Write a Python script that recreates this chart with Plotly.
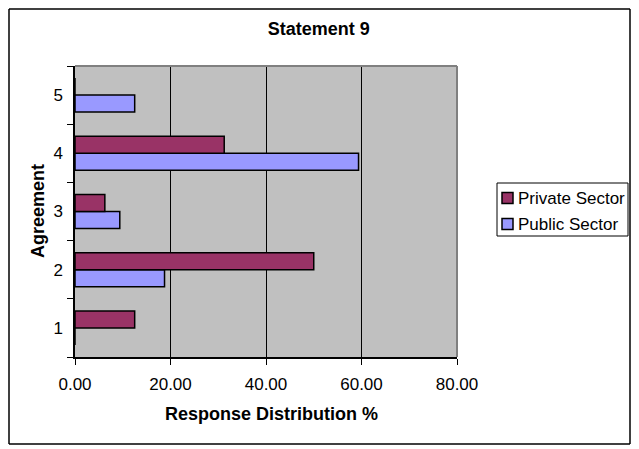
import plotly.graph_objects as go

categories = ["1", "2", "3", "4", "5"]
series_names = ["Private Sector", "Public Sector"]
private_sector = [12.5, 50.0, 6.25, 31.25, 0]
public_sector = [0, 18.75, 9.38, 59.38, 12.5]
x_ticks = [0, 20, 40, 60, 80]
colors = {"Private Sector": "#993366", "Public Sector": "#9999FF"}

# The page shows the figure shifted by the body margin, so layout is
# expressed in figure pixels (target pixel minus OFF).
OFF = 8
W, H = 639, 449
L, R, T, B = 75 - OFF, 457 - OFF, 66 - OFF, 357 - OFF
pw, ph = R - L, B - T

def px_x(p):
    return (p - OFF - L) / pw

def px_y(p):
    return (B - (p - OFF)) / ph

fig = go.Figure()
fig.add_trace(go.Bar(
    y=categories, x=public_sector, orientation="h", name=series_names[1],
    marker=dict(color=colors[series_names[1]], line=dict(color="black", width=1.5)),
    showlegend=False,
))
fig.add_trace(go.Bar(
    y=categories, x=private_sector, orientation="h", name=series_names[0],
    marker=dict(color=colors[series_names[0]], line=dict(color="black", width=1.5)),
    showlegend=False,
))

def hline(y, x0, x1, color="black", width=1.5):
    return dict(type="line", xref="paper", yref="paper", x0=px_x(x0), x1=px_x(x1),
                y0=px_y(y), y1=px_y(y), line=dict(color=color, width=width), layer="above")

def vline(x, y0, y1, color="black", width=1.5):
    return dict(type="line", xref="paper", yref="paper", x0=px_x(x), x1=px_x(x),
                y0=px_y(y0), y1=px_y(y1), line=dict(color=color, width=width), layer="above")

BL, BT, BR, BB = 9, 9, 630, 444
shapes = [
    # plot area border (grey, top & right)
    hline(66, 75, 457, "#808080", 2),
    vline(457, 66, 357, "#808080", 2),
    # outer chart border
    hline(BT, BL, BR, "black", 1.5),
    hline(BB, BL, BR, "black", 1.5),
    vline(BL, BT, BB, "black", 1.5),
    vline(BR, BT, BB, "black", 1.5),
    # legend box
    dict(type="rect", xref="paper", yref="paper", x0=px_x(497), x1=px_x(628),
         y0=px_y(236), y1=px_y(183), line=dict(color="black", width=1),
         fillcolor="white", layer="above"),
]
annotations = [
    dict(text="<b>Response Distribution %</b>", xref="paper", yref="paper",
         x=px_x(271), y=px_y(413.5), xanchor="center", yanchor="middle",
         showarrow=False, font=dict(size=18)),
    dict(text="<b>Agreement</b>", xref="paper", yref="paper",
         x=px_x(37.5), y=px_y(211.5), xanchor="center", yanchor="middle",
         textangle=-90, showarrow=False, font=dict(size=18)),
]
leg_rows = [198, 224]
for name, yc in zip(series_names, leg_rows):
    shapes.append(dict(type="rect", xref="paper", yref="paper",
                       x0=px_x(502), x1=px_x(513), y0=px_y(yc + 5.5), y1=px_y(yc - 5.5),
                       fillcolor=colors[name], line=dict(color="black", width=1.5),
                       layer="above"))
    annotations.append(dict(text=name, xref="paper", yref="paper",
                            x=px_x(516), y=px_y(yc), xanchor="left", yanchor="middle",
                            showarrow=False, font=dict(size=17)))

fig.update_layout(
    width=W, height=H,
    margin=dict(l=L, r=W - R, t=T, b=H - B, pad=0, autoexpand=False),
    paper_bgcolor="white", plot_bgcolor="#C0C0C0",
    font=dict(family="Liberation Sans, Arial, sans-serif", color="black", size=17),
    barmode="group", bargap=0.415, bargroupgap=0,
    title=dict(text="<b>Statement 9</b>", x=(318.7 - OFF) / W, xref="container",
               xanchor="center", y=1 - (28.3 - OFF) / H, yref="container",
               yanchor="middle", font=dict(size=18, color="black")),
    showlegend=False,
    xaxis=dict(range=[0, 80], tickvals=x_ticks, tickformat=".2f",
               ticks="outside", ticklen=6, tickcolor="black",
               showgrid=True, gridcolor="black", gridwidth=1,
               showline=True, linecolor="black", linewidth=1.5,
               zeroline=False, tickfont=dict(size=17), ticklabelstandoff=5),
    yaxis=dict(type="category", categoryorder="array", categoryarray=categories,
               range=[-0.5, 4.5], tickson="boundaries", ticks="outside",
               ticklen=6, tickcolor="black", showgrid=False,
               showline=True, linecolor="black", linewidth=1.5,
               zeroline=False, tickfont=dict(size=17), ticklabelstandoff=7),
    annotations=annotations,
    shapes=shapes,
)

fig.write_html("out.html")
